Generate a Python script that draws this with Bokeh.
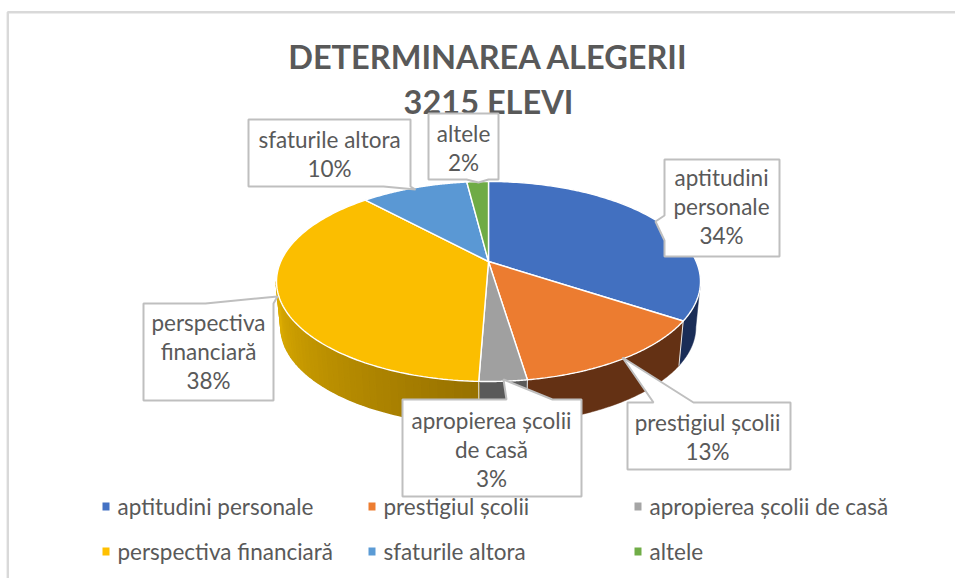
import numpy as np
from bokeh.plotting import figure
from bokeh.models import Range1d
from bokeh.core.properties import value
from bokeh.embed import file_html
from bokeh.resources import INLINE

# ---- data
categories = ["aptitudini personale", "prestigiul școlii", "apropierea școlii de casă",
              "perspectiva financiară", "sfaturile altora", "altele"]
values = [34.3, 13.3, 3.0, 37.5, 9.9, 2.0]
percent_labels = ["34%", "13%", "3%", "38%", "10%", "2%"]
label_lines = [["aptitudini", "personale"], ["prestigiul școlii"], ["apropierea școlii", "de casă"],
               ["perspectiva", "financiară"], ["sfaturile altora"], ["altele"]]
colors = ["#4472C4", "#ED7D31", "#A5A5A5", "#FFC000", "#5B9BD5", "#70AD47"]
top_colors = ["#4270C0", "#EC7C30", "#A0A0A0", "#FBBE00", "#5A98D4", "#6FAB46"]
wall_colors = ["#1A2D57", "#643114", "#5A5A5A", None, None, None]
title_lines = ["DETERMINAREA ALEGERII", "3215 ELEVI"]

# ---- layout (page pixels)
W, H = 955, 578
CX, CY = 488.0, 261.0
K, A, B = 0.2, 207.7, 96.0
WALL_SCALE, WALL_DROP = 0.978, 46.0
TEXT = "#595959"
FONT = value("Lato")

p = figure(width=W, height=H, x_range=Range1d(0, W), y_range=Range1d(H, 0),
           toolbar_location=None, output_backend="svg", min_border=0,
           x_axis_type="linear", outline_line_color=None)
p.axis.visible = False
p.grid.visible = False


def project(theta, scale=1.0, drop=0.0):
    u, v = np.sin(theta), -np.cos(theta)
    w = 1 - K * v
    return CX + scale * A * u / w, CY + drop + scale * B * v / w


# chart border
p.line([W, 7.3, 7.3], [11.7, 11.7, H], line_color="#D9D9D9", line_width=2.4)

# title
p.text([488, 488], [56, 101], text=title_lines, text_font=FONT, text_font_style="bold",
       text_font_size="32.5px", text_color=TEXT, text_align="center", text_baseline="middle")

# slice boundaries as angles
edges = 2 * np.pi * np.concatenate([[0], np.cumsum(values)]) / sum(values)
VIS0, VIS1 = np.arccos(-K), 2 * np.pi - np.arccos(-K)

# side walls
for i in range(len(values)):
    a0, a1 = max(edges[i], VIS0), min(edges[i + 1], VIS1)
    if a1 <= a0:
        continue
    if wall_colors[i] is not None:
        t = np.linspace(a0, a1, 60)
        x1, y1 = project(t)
        x2, y2 = project(t[::-1], WALL_SCALE, WALL_DROP)
        p.patch(np.r_[x1, x2], np.r_[y1, y2], fill_color=wall_colors[i], line_color=wall_colors[i], line_width=0.5)
    else:
        # gradient wall of the yellow slice
        n = 40
        t = np.linspace(a0, a1, n + 1)
        c0, c1 = np.array([0x98, 0x72, 0x00]), np.array([0xDC, 0xAC, 0x00])
        for j in range(n):
            tt = np.linspace(t[j], t[j + 1], 3)
            x1, y1 = project(tt)
            x2, y2 = project(tt[::-1], WALL_SCALE, WALL_DROP)
            f = j / (n - 1)
            c = "#%02X%02X%02X" % tuple((c0 + (c1 - c0) * f).astype(int))
            p.patch(np.r_[x1, x2], np.r_[y1, y2], fill_color=c, line_color=c, line_width=2)

# wall seams
for e in edges[1:-1]:
    if VIS0 < e < VIS1:
        x1, y1 = project(e)
        x2, y2 = project(e, WALL_SCALE, WALL_DROP)
        p.line([x1, x2], [y1, y2], line_color="#E8E8E8", line_width=1)

# top slices
for i in range(len(values)):
    t = np.linspace(edges[i], edges[i + 1], 120)
    x, y = project(t)
    p.patch(np.r_[CX, x], np.r_[CY, y], fill_color=top_colors[i], line_color="white", line_width=1.4)

# callouts (outline includes the pointer), text drawn on top
callouts = [
    ([664, 779, 779, 664, 664, 655, 664], [159, 159, 256, 256, 240, 221, 215]),
    ([627, 653, 622, 693, 790, 790, 627], [402, 402, 357, 402, 402, 469, 469]),
    ([402, 506, 503, 552, 581, 581, 402], [399, 399, 379, 399, 399, 496, 496]),
    ([143, 205, 277, 273, 273, 143], [303, 303, 296, 303, 400, 400]),
    ([248, 410, 410, 415, 383, 248], [119, 119, 186, 189, 186, 186]),
    ([428, 498, 498, 488, 478, 466, 428], [113, 113, 179, 179, 182, 179, 179]),
]
text_centres = [(721, 177), (707, 422), (491, 420), (208, 322), (329, 138.5), (463, 132.5)]
LINE_STEP = 29.2
for i in range(len(values)):
    xs, ys = callouts[i]
    p.patch(xs, ys, fill_color="white", line_color="#BFBFBF", line_width=2)
    lines = label_lines[i] + [percent_labels[i]]
    cx, cy = text_centres[i]
    p.text([cx] * len(lines), [cy + k * LINE_STEP for k in range(len(lines))], text=lines,
           text_font=FONT, text_font_size="22.5px", text_color=TEXT,
           text_align="center", text_baseline="middle")

# legend
legend_x = [102, 368, 634, 102, 368, 634]
legend_y = [506, 506, 506, 551, 551, 551]
p.quad(left=[x for x in legend_x], right=[x + 7 for x in legend_x],
       top=[y - 4 for y in legend_y], bottom=[y + 4 for y in legend_y],
       fill_color=colors, line_color=None)
p.text([x + 15 for x in legend_x], legend_y, text=categories, text_font=FONT, text_font_size="22.5px",
       text_color=TEXT, text_align="left", text_baseline="middle")

open("out.html", "w").write(file_html(p, INLINE))
